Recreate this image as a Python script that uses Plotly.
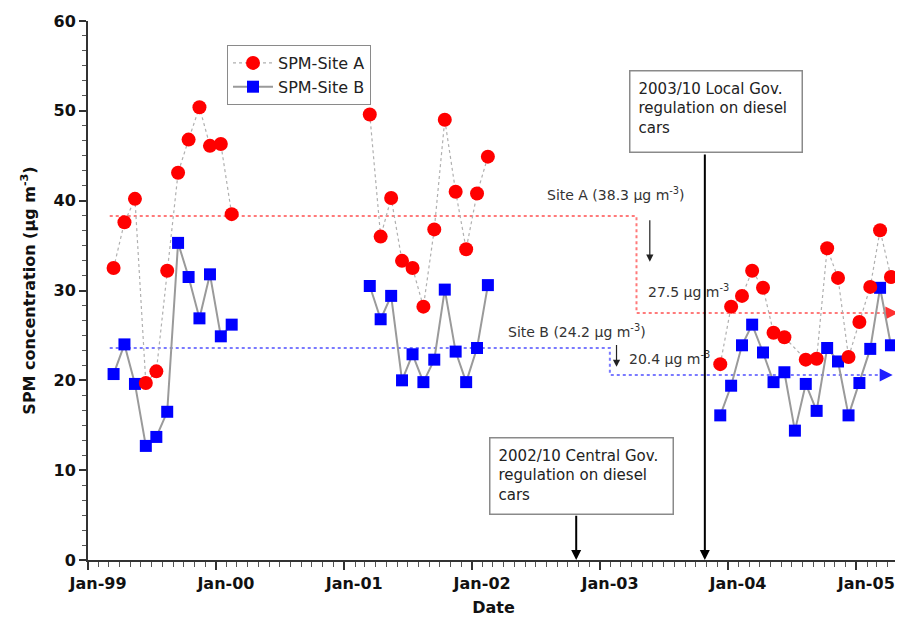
import plotly.graph_objects as go

# ---------------- data ----------------
months_1999 = ["1999-03-15", "1999-04-15", "1999-05-15", "1999-06-15", "1999-07-15", "1999-08-15",
               "1999-09-15", "1999-10-15", "1999-11-15", "1999-12-15", "2000-01-15", "2000-02-15"]
site_a_1999 = [32.5, 37.6, 40.2, 19.7, 21.0, 32.2, 43.1, 46.8, 50.4, 46.1, 46.3, 38.5]
site_b_1999 = [20.7, 24.0, 19.6, 12.7, 13.7, 16.5, 35.3, 31.5, 26.9, 31.8, 24.9, 26.2]

months_2001 = ["2001-03-15", "2001-04-15", "2001-05-15", "2001-06-15", "2001-07-15", "2001-08-15",
               "2001-09-15", "2001-10-15", "2001-11-15", "2001-12-15", "2002-01-15", "2002-02-15"]
site_a_2001 = [49.6, 36.0, 40.3, 33.3, 32.5, 28.2, 36.8, 49.0, 41.0, 34.6, 40.8, 44.9]
site_b_2001 = [30.5, 26.8, 29.4, 20.0, 22.9, 19.8, 22.3, 30.1, 23.2, 19.8, 23.6, 30.6]

months_2004 = ["2003-12-10", "2004-01-10", "2004-02-10", "2004-03-10", "2004-04-10", "2004-05-10",
               "2004-06-10", "2004-07-10", "2004-08-10", "2004-09-10", "2004-10-10", "2004-11-10",
               "2004-12-10", "2005-01-10", "2005-02-10", "2005-03-10", "2005-04-10"]
site_a_2004 = [21.8, 28.2, 29.4, 32.2, 30.3, 25.3, 24.8, None, 22.3, 22.4, 34.7, 31.4,
               22.6, 26.5, 30.4, 36.7, 31.5]
site_b_2004 = [16.1, 19.4, 23.9, 26.2, 23.1, 19.8, 20.9, 14.4, 19.6, 16.6, 23.6, 22.1,
               16.1, 19.7, 23.5, 30.3, 23.9]

# average levels before / after regulation (as drawn)
mean_a = [38.3, 27.5]
mean_b = [23.6, 20.6]
mean_a_dates = ["1999-03-04", "2003-04-15", "2005-04-22"]
mean_b_dates = ["1999-03-04", "2003-01-29", "2005-04-06"]
arrow_end_a = "2005-05-01"
arrow_end_b = "2005-04-15"

# regulation events (arrow positions)
event_central = "2002-10-25"
event_local = "2003-10-27"

FONT = "DejaVu Sans"
RED = "#ff0000"
BLUE = "#0000ff"


def build(blocks):
    xs, ys = [], []
    for dates, vals in blocks:
        for d, v in zip(dates, vals):
            if v is not None:
                xs.append(d)
                ys.append(v)
        xs.append(None)
        ys.append(None)
    return xs, ys


xa, ya = build([(months_1999, site_a_1999), (months_2001, site_a_2001), (months_2004, site_a_2004)])
xb, yb = build([(months_1999, site_b_1999), (months_2001, site_b_2001), (months_2004, site_b_2004)])

fig = go.Figure()

# mean step lines
fig.add_trace(go.Scatter(
    x=[mean_a_dates[0], mean_a_dates[1], mean_a_dates[1], mean_a_dates[2]],
    y=[mean_a[0], mean_a[0], mean_a[1], mean_a[1]],
    mode="lines", line=dict(color="#ff7a7a", width=2, dash="dot"),
    showlegend=False, hoverinfo="skip"))
fig.add_trace(go.Scatter(
    x=[mean_b_dates[0], mean_b_dates[1], mean_b_dates[1], mean_b_dates[2]],
    y=[mean_b[0], mean_b[0], mean_b[1], mean_b[1]],
    mode="lines", line=dict(color="#7a7aff", width=2, dash="dot"),
    showlegend=False, hoverinfo="skip"))
fig.add_trace(go.Scatter(
    x=[arrow_end_a], y=[mean_a[1]], mode="markers",
    marker=dict(symbol="arrow-right", size=13, color="#ff3030"),
    showlegend=False, hoverinfo="skip", cliponaxis=False))
fig.add_trace(go.Scatter(
    x=[arrow_end_b], y=[mean_b[1]], mode="markers",
    marker=dict(symbol="arrow-right", size=13, color="#2020ff"),
    showlegend=False, hoverinfo="skip", cliponaxis=False))

# connecting lines
fig.add_trace(go.Scatter(x=xa, y=ya, mode="lines",
                         line=dict(color="#b0b0b0", width=1.2, dash="dot"),
                         showlegend=False, hoverinfo="skip"))
fig.add_trace(go.Scatter(x=xb, y=yb, mode="lines",
                         line=dict(color="#9a9a9a", width=2),
                         showlegend=False, hoverinfo="skip"))
# markers
fig.add_trace(go.Scatter(x=xb, y=yb, mode="markers",
                         marker=dict(symbol="square", size=12, color=BLUE),
                         showlegend=False))
fig.add_trace(go.Scatter(x=xa, y=ya, mode="markers",
                         marker=dict(symbol="circle", size=14, color=RED),
                         showlegend=False))
# legend entries
fig.add_trace(go.Scatter(x=[None], y=[None], mode="lines+markers", name="SPM-Site A",
                         line=dict(color="#b0b0b0", width=1.2, dash="dot"),
                         marker=dict(symbol="circle", size=14, color=RED)))
fig.add_trace(go.Scatter(x=[None], y=[None], mode="lines+markers", name="SPM-Site B",
                         line=dict(color="#9a9a9a", width=2),
                         marker=dict(symbol="square", size=12, color=BLUE)))

# page body has an 8px margin: figure is drawn from (8, 8)
OFF = 8
W, H = 903 - OFF, 622 - OFF
PL, PR, PT, PB = 88, 899, 21, 560  # plot area in window pixels
L = PL - OFF
R = OFF + W - PR
T = PT - OFF
B = OFF + H - PB
pw, ph = PR - PL, PB - PT


def px(xp):
    return (xp - PL) / pw


def py(yp):
    return (PB - yp) / ph


annotations = []
txt = dict(family=FONT, size=14, color="#333333")
annotations.append(dict(xref="paper", yref="paper", x=px(545), y=py(194), xanchor="left", yanchor="middle",
                        text="Site A (38.3 \u03bcg m<sup>-3</sup>)", showarrow=False, font=txt))
annotations.append(dict(xref="paper", yref="paper", x=px(646), y=py(291), xanchor="left", yanchor="middle",
                        text="27.5 \u03bcg m<sup>-3</sup>", showarrow=False, font=txt))
annotations.append(dict(xref="paper", yref="paper", x=px(506), y=py(331), xanchor="left", yanchor="middle",
                        text="Site B (24.2 \u03bcg m<sup>-3</sup>)", showarrow=False, font=txt))
annotations.append(dict(xref="paper", yref="paper", x=px(627), y=py(358), xanchor="left", yanchor="middle",
                        text="20.4 \u03bcg m<sup>-3</sup>", showarrow=False, font=txt))

# small thin arrows showing the decrease
annotations.append(dict(x="2003-05-23", y=33.2, ax="2003-05-23", ay=38.0, xref="x", yref="y",
                        axref="x", ayref="y", showarrow=True, arrowhead=2, arrowsize=1.2,
                        arrowwidth=1.2, arrowcolor="#222222", text=""))
annotations.append(dict(x="2003-02-17", y=21.5, ax="2003-02-17", ay=24.1, xref="x", yref="y",
                        axref="x", ayref="y", showarrow=True, arrowhead=2, arrowsize=1.2,
                        arrowwidth=1.2, arrowcolor="#222222", text=""))

# regulation boxes
boxfont = dict(family=FONT, size=15, color="#222222")
annotations.append(dict(xref="paper", yref="paper", x=px(629), y=py(70), xanchor="left", yanchor="top",
                        text="2003/10 Local Gov.<br>regulation on diesel<br>cars", showarrow=False,
                        align="left", valign="top", font=boxfont, bordercolor="#8a8a8a",
                        borderwidth=1.5, borderpad=8, bgcolor="white", width=155, height=64))
annotations.append(dict(xref="paper", yref="paper", x=px(489), y=py(437), xanchor="left", yanchor="top",
                        text="2002/10 Central Gov.<br>regulation on diesel<br>cars", showarrow=False,
                        align="left", valign="top", font=boxfont, bordercolor="#8a8a8a",
                        borderwidth=1.5, borderpad=8, bgcolor="white", width=166, height=59))
# regulation arrows
annotations.append(dict(x=event_local, y=0, ax=event_local, ay=45.3, xref="x", yref="y",
                        axref="x", ayref="y", showarrow=True, arrowhead=2, arrowsize=1,
                        arrowwidth=2, arrowcolor="#000000", text=""))
annotations.append(dict(x=event_central, y=0, ax=event_central, ay=5.1, xref="x", yref="y",
                        axref="x", ayref="y", showarrow=True, arrowhead=2, arrowsize=1,
                        arrowwidth=2, arrowcolor="#000000", text=""))

fig.update_layout(
    width=W, height=H,
    margin=dict(l=L, r=R, t=T, b=B, autoexpand=False),
    paper_bgcolor="white", plot_bgcolor="white",
    font=dict(family=FONT, color="#222222"),
    annotations=annotations,
    legend=dict(x=px(227), y=py(45), xanchor="left", yanchor="top",
                bordercolor="#8a8a8a", borderwidth=1, bgcolor="white",
                font=dict(family=FONT, size=16, color="#222222"),
                tracegroupgap=0, itemwidth=40),
    xaxis=dict(type="date", range=["1999-01-01", "2005-05-03"],
               tick0="1999-01-01", dtick="M12", tickformat="%b-%y", ticklabelshift=10,
               showgrid=False, zeroline=False, showline=True, linecolor="#333333", linewidth=2,
               ticks="outside", ticklen=8, tickwidth=1.5, tickcolor="#333333",
               minor=dict(dtick="M1", ticks="outside", ticklen=5, tickwidth=1, tickcolor="#555555"),
               tickfont=dict(family=FONT, size=16, weight="bold", color="#111111"),
               title=dict(text="Date", font=dict(family=FONT, size=16, weight="bold", color="#111111"),
                          standoff=10)),
    yaxis=dict(range=[0, 60], dtick=10, tick0=0,
               showgrid=False, zeroline=False, showline=True, linecolor="#333333", linewidth=2,
               ticks="outside", ticklen=7, tickwidth=1.5, tickcolor="#333333",
               minor=dict(dtick=10 / 6, ticks="outside", ticklen=4, tickwidth=1, tickcolor="#555555"),
               tickfont=dict(family=FONT, size=16, weight="bold", color="#111111"),
               title=dict(text="SPM concentration (\u03bcg m<sup>-3</sup>)",
                          font=dict(family=FONT, size=16, weight="bold", color="#111111"),
                          standoff=14)),
)

fig.write_html("out.html")
